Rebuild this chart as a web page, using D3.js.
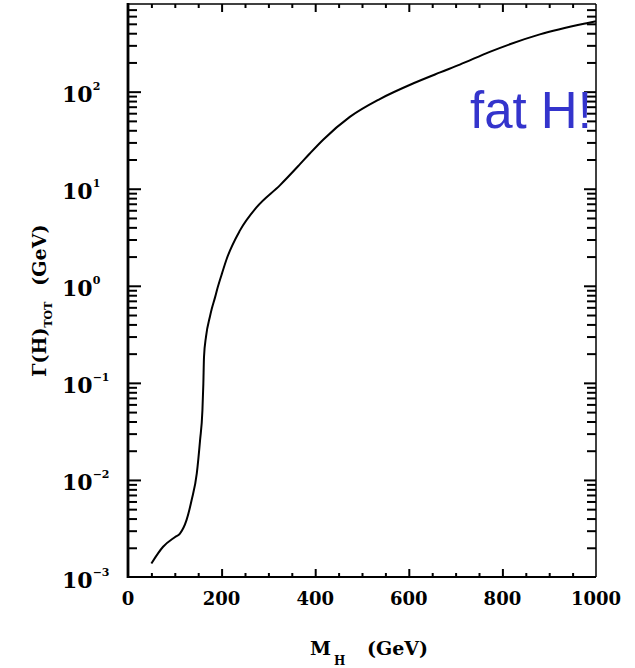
<!DOCTYPE html>
<html>
<head>
<meta charset="utf-8">
<script src="https://cdn.jsdelivr.net/npm/d3@7"></script>
<style>
  html, body { margin: 0; padding: 0; background: #fff; }
  svg { display: block; }
  .lbl { font-family: "DejaVu Serif", serif; font-weight: bold; fill: #000; }
</style>
</head>
<body>
<svg id="chart" width="635" height="668"></svg>
<script>
// ---- data ----
const massGeV = [50, 75, 100, 111, 125, 136, 147, 154, 159, 161, 162.4, 166.7, 175, 179, 186, 190, 200, 211, 239, 275, 325, 367, 389, 417, 474, 538, 610, 667, 709, 773, 880, 980, 1000];
const widthGeV = [0.00138, 0.00205, 0.00257, 0.0028, 0.00385, 0.0062, 0.0117, 0.0257, 0.052, 0.098, 0.185, 0.30, 0.48, 0.58, 0.76, 0.90, 1.3, 1.9, 3.7, 6.46, 10.9, 17.8, 23.2, 32, 55, 84, 122, 158, 190, 257, 389, 507, 531];
const xMajorTicks = [0, 200, 400, 600, 800, 1000];
const xTickLabels = ["0", "200", "400", "600", "800", "1000"];
const yDecadeExponents = [-3, -2, -1, 0, 1, 2];
const yExponentLabels = ["\u22123", "\u22122", "\u22121", "0", "1", "2"];
const xDomain = [0, 1000];
const yDomain = [1e-3, 8e2];

// ---- layout ----
const L = 128, R = 596, T = 4, B = 577;
const svg = d3.select("#chart");
svg.append("rect").attr("width", 635).attr("height", 668).attr("fill", "#fff");

const x = d3.scaleLinear().domain(xDomain).range([L, R]);
const y = d3.scaleLog().domain(yDomain).range([B, T]);

const xMinor = d3.range(50, 1000, 50).filter(v => v % 200 !== 0);
const yMajor = yDecadeExponents.map(e => Math.pow(10, e));
const yMinor = [];
yDecadeExponents.forEach(e => { for (let k = 2; k <= 9; k++) { const v = k * Math.pow(10, e); if (v < yDomain[1]) yMinor.push(v); } });

function styleAxis(g) {
  g.select(".domain").remove();
  g.selectAll(".tick line").attr("stroke", "#000").attr("stroke-width", 2);
  g.selectAll(".tick text").remove();
}

// bottom (ticks inward, up)
svg.append("g").attr("transform", `translate(0,${B})`).call(d3.axisTop(x).tickValues(xMajorTicks.slice(1, -1)).tickSize(8)).call(styleAxis);
svg.append("g").attr("transform", `translate(0,${B})`).call(d3.axisTop(x).tickValues(xMinor).tickSize(4)).call(styleAxis);
// top (ticks inward, down)
svg.append("g").attr("transform", `translate(0,${T})`).call(d3.axisBottom(x).tickValues(xMajorTicks.slice(1, -1)).tickSize(8)).call(styleAxis);
svg.append("g").attr("transform", `translate(0,${T})`).call(d3.axisBottom(x).tickValues(xMinor).tickSize(4)).call(styleAxis);
// left (ticks inward, right)
svg.append("g").attr("transform", `translate(${L},0)`).call(d3.axisRight(y).tickValues(yMajor.slice(1)).tickSize(13)).call(styleAxis);
svg.append("g").attr("transform", `translate(${L},0)`).call(d3.axisRight(y).tickValues(yMinor).tickSize(9)).call(styleAxis);
// right (ticks inward, left)
svg.append("g").attr("transform", `translate(${R},0)`).call(d3.axisLeft(y).tickValues(yMajor.slice(1)).tickSize(12)).call(styleAxis);
svg.append("g").attr("transform", `translate(${R},0)`).call(d3.axisLeft(y).tickValues(yMinor).tickSize(9)).call(styleAxis);

// frame
svg.append("line").attr("x1", L).attr("x2", R).attr("y1", T).attr("y2", T).attr("stroke", "#000").attr("stroke-width", 1.5);
svg.append("line").attr("x1", L).attr("x2", R).attr("y1", B).attr("y2", B).attr("stroke", "#000").attr("stroke-width", 2);
svg.append("line").attr("x1", R).attr("x2", R).attr("y1", T).attr("y2", B).attr("stroke", "#000").attr("stroke-width", 1.5);
svg.append("line").attr("x1", L).attr("x2", L).attr("y1", T - 1).attr("y2", B + 1).attr("stroke", "#000").attr("stroke-width", 2.8);

// x tick labels
svg.append("g").selectAll("text").data(xMajorTicks).join("text")
  .attr("class", "lbl").attr("x", d => x(d)).attr("y", 605)
  .attr("text-anchor", "middle").attr("font-size", 18)
  .text((d, i) => xTickLabels[i]);

// y tick labels: 10^n
const yl = svg.append("g").selectAll("text").data(yMajor).join("text")
  .attr("class", "lbl").attr("x", 62).attr("y", d => y(d) + 10.5).attr("font-size", 22);
yl.append("tspan").text("10");
yl.append("tspan").attr("font-size", 11).attr("dy", -12).text((d, i) => yExponentLabels[i]);

// curve
const pts = massGeV.map((m, i) => [m, widthGeV[i]]);
svg.append("path").datum(pts)
  .attr("fill", "none").attr("stroke", "#000").attr("stroke-width", 2)
  .attr("d", d3.line().x(d => x(d[0])).y(d => y(d[1])).curve(d3.curveMonotoneX));

// x title
const xt = svg.append("text").attr("class", "lbl").attr("x", 310).attr("y", 655).attr("font-size", 19);
xt.append("tspan").text("M");
xt.append("tspan").attr("font-size", 12).attr("dx", 3).attr("dy", 10).text("H");
xt.append("tspan").attr("x", 367).attr("dy", -10).text("(GeV)");

// y title
const yt = svg.append("text").attr("class", "lbl")
  .attr("transform", "translate(46,377) rotate(-90)").attr("x", 0).attr("y", 0).attr("font-size", 19);
yt.append("tspan").text("\u0393(H)");
yt.append("tspan").attr("font-size", 11).attr("dy", 6).text("TOT");
yt.append("tspan").attr("dx", 16).attr("dy", -6).text("(GeV)");

// annotation
svg.append("text").attr("x", 470).attr("y", 128)
  .attr("font-family", "'Liberation Sans', Arial, sans-serif").attr("font-size", 51)
  .attr("fill", "#3434cc").text("fat H!");
</script>
</body>
</html>
